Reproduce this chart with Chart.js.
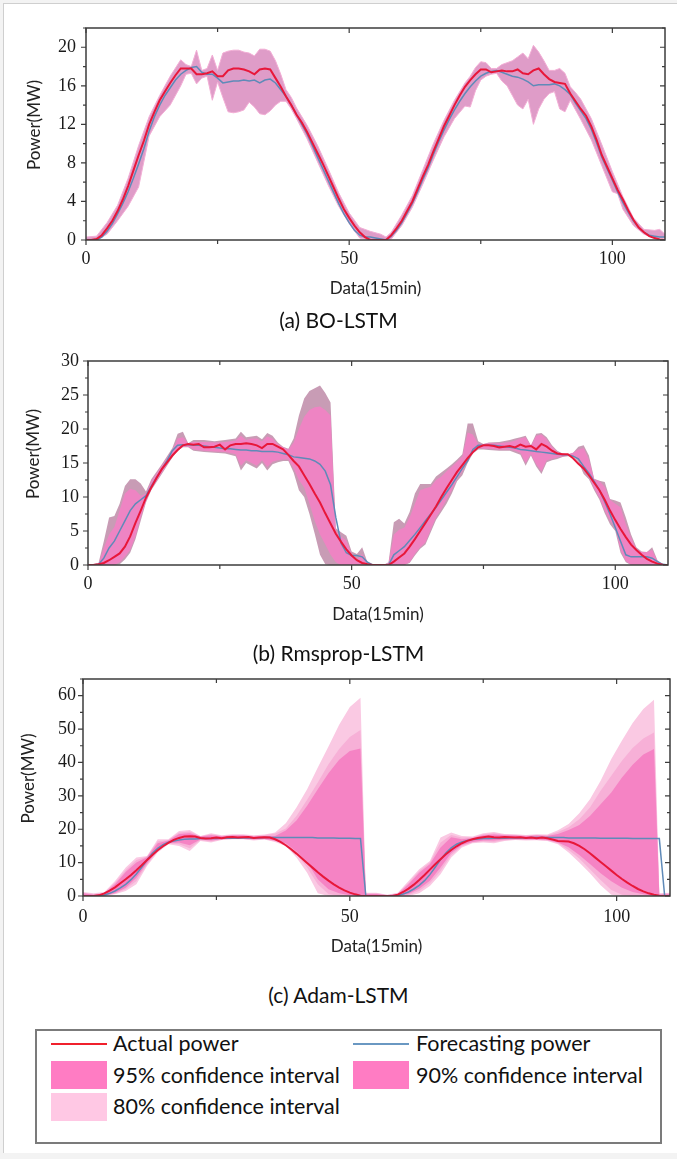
<!DOCTYPE html>
<html>
<head>
<meta charset="utf-8">
<script src="https://cdn.jsdelivr.net/npm/chart.js@4.4.1/dist/chart.umd.min.js"></script>
<style>
  body { margin: 0; background: #f3f3f3; width: 677px; height: 1159px; position: relative; overflow: hidden; }
  #page { position: absolute; left: 3px; top: 3px; width: 690px; height: 1149px; background: #fff; border-left: 1px solid #cfcfcf; border-top: 1px solid #cfcfcf; }
  canvas { position: absolute; left: 0; }
  .cap { position: absolute; width: 677px; left: 0; text-align: center; font-family: Lato, sans-serif; font-size: 21px; color: #111; }
  #legend { position: absolute; left: 35px; top: 1029px; width: 627px; height: 115px; border: 2px solid #7b7b7b; box-sizing: border-box; background: #fff; }
  .lg { position: absolute; font-family: Lato, sans-serif; font-size: 21.5px; color: #111; line-height: 24px; }
  .sw { position: absolute; width: 56px; }
</style>
</head>
<body>
<div id="page"></div>
<canvas id="chartA" width="677" height="300" style="top:0px"></canvas>
<canvas id="chartB" width="677" height="300" style="top:330px"></canvas>
<canvas id="chartC" width="677" height="300" style="top:660px"></canvas>
<div class="cap" style="top:307px">(a) BO-LSTM</div>
<div class="cap" style="top:640px">(b) Rmsprop-LSTM</div>
<div class="cap" style="top:982px">(c) Adam-LSTM</div>

<div id="legend"></div>
<div class="sw" style="left:51px;top:1043px;height:2px;background:#f0202c"></div>
<div class="lg" style="left:113px;top:1031px">Actual power</div>
<div class="sw" style="left:353px;top:1043px;height:2px;background:#6a98c2"></div>
<div class="lg" style="left:416px;top:1031px">Forecasting power</div>
<div class="sw" style="left:51px;top:1061px;height:28px;background:#ff7cc3"></div>
<div class="lg" style="left:113px;top:1063px">95% confidence interval</div>
<div class="sw" style="left:353px;top:1061px;height:28px;background:#ff7cc3"></div>
<div class="lg" style="left:416px;top:1063px">90% confidence interval</div>
<div class="sw" style="left:51px;top:1093px;height:28px;background:#ffc8e4"></div>
<div class="lg" style="left:113px;top:1094px">80% confidence interval</div>

<script>
// x positions of the line series (one value every 15 min step)
const steps = [];
for (let i = 0; i <= 110; i++) steps.push(i);

// ---------- (a) BO-LSTM ----------
const actualA = [0,0,0.1,0.5,1.2,2.0,3.0,4.2,5.6,7.2,8.8,
  10.3,12.0,13.3,14.5,15.4,16.3,17.1,17.8,17.8,17.8,
  17.2,17.2,17.3,17.5,17.0,17.0,17.6,17.8,17.8,17.7,
  17.5,17.2,17.7,17.8,17.7,16.8,15.9,14.9,14.0,13.0,
  12.2,11.2,10.1,9.0,7.9,6.7,5.5,4.3,3.2,2.3,
  1.5,0.8,0.3,0,0,0,0,0.5,1.2,2.0,
  3.0,4.0,5.3,6.6,7.8,9.2,10.5,11.8,12.9,14.0,
  15.0,15.9,16.6,17.2,17.7,17.7,17.4,17.5,17.6,17.5,
  17.5,17.7,17.3,17.2,17.6,17.8,17.2,16.7,16.4,16.3,
  16.2,15.2,14.4,13.6,12.9,11.8,10.4,8.8,7.6,6.4,
  5.2,4.2,3.1,2.1,1.3,0.8,0.4,0.2,0.05,0];
const forecastA = [0,0,0,0.3,0.9,1.7,2.7,3.8,5.0,6.4,7.9,
  9.5,11.3,12.8,14.0,15.0,15.8,16.6,17.2,17.6,17.9,
  18.0,17.4,17.2,17.2,16.8,16.3,16.4,16.5,16.5,16.6,
  16.5,16.6,16.3,16.6,16.7,16.3,15.6,14.9,14.0,13.0,
  12.0,11.0,9.8,8.6,7.4,6.2,5.0,3.8,2.7,1.8,
  1.0,0.5,0.3,0.3,0.2,0.1,0,0.4,1.0,1.8,
  2.8,3.8,5.0,6.3,7.5,8.9,10.2,11.4,12.5,13.5,
  14.4,15.2,15.9,16.5,17.0,17.3,17.5,17.6,17.4,17.2,
  17.0,16.9,16.7,16.4,16.0,16.1,16.1,16.1,16.2,16.0,
  15.6,15.1,14.2,13.4,12.6,11.5,10.1,8.6,7.4,6.2,
  5.0,3.9,2.9,2.0,1.3,0.8,0.5,0.4,0.3,0.3];
const bandXA = [0,2,4,6,8,10,12,14,16,
  18,19,20,21,22,23,24,25,26,27,28,29,30,31,32,33,34,35,36,37,38,39,40,
  42,44,46,48,50,52,54,56,57,58,
  60,62,64,66,68,70,72,
  73,74,75,76,77,78,79,80,81,82,83,84,85,86,87,88,89,90,91,92,93,94,
  96,98,100,101,102,104,106,108,109,110];
const bandHiA = [0.3,0.4,1.8,3.6,6.4,9.8,12.8,15.0,17.0,
  18.7,18.2,18.0,19.7,17.6,17.8,19.2,17.6,19.4,19.6,19.7,19.7,19.5,19.4,19.1,19.8,19.8,19.6,18.6,17.2,15.6,14.8,13.7,
  11.9,9.8,7.4,4.9,2.8,1.3,0.9,0.6,0.3,0.8,
  2.6,4.6,7.3,10.0,12.4,14.5,16.3,
  17.0,17.9,18.5,18.4,17.8,17.8,18.2,18.4,18.6,19.0,19.4,18.8,20.2,19.5,18.6,17.6,17.6,17.8,17.3,15.9,15.3,14.6,
  12.6,9.9,7.1,5.8,4.5,2.3,1.1,1.0,1.1,0.6];
const bandLoA = [0,0,0.6,2.0,3.5,5.5,10.8,12.8,14.0,
  16.0,17.2,17.3,16.2,16.8,17.0,14.5,16.4,14.8,13.3,13.2,13.3,13.5,14.3,13.8,13.1,13.0,13.4,14.0,14.4,14.4,13.6,12.6,
  10.5,8.1,5.7,3.5,1.7,0.2,0,0,0,0.1,
  1.5,3.4,5.8,8.3,10.7,12.6,13.9,
  13.8,15.5,16.6,17.0,17.2,17.3,16.5,16.0,15.0,14.0,13.6,14.6,12.0,13.6,14.6,15.2,15.4,13.6,13.3,14.5,13.5,12.5,
  10.4,7.7,5.0,4.8,3.2,1.5,0.6,0.2,0.2,0.2];

// ---------- (b) Rmsprop-LSTM ----------
const actualB = [0,0,0.1,0.3,0.7,1.2,1.7,2.7,4.2,6.2,8.0,
  9.9,11.4,12.8,14.1,15.1,16.1,16.9,17.6,17.8,17.7,
  17.8,17.3,17.3,17.4,17.7,17.0,17.6,17.8,17.8,17.9,
  17.8,17.6,17.2,17.8,17.8,17.4,17.0,16.2,15.3,14.5,
  13.2,11.9,10.5,9.2,7.6,6.1,4.6,3.4,2.3,1.4,
  0.7,0.3,0.1,0,0,0,0,0.5,1.1,1.7,
  2.7,3.8,5.0,6.2,7.4,8.6,10.0,11.3,12.5,13.7,
  14.7,15.7,16.6,17.3,17.6,17.6,17.5,17.3,17.4,17.5,
  17.3,17.7,17.4,17.5,17.0,17.8,17.4,16.8,16.4,16.3,
  16.3,15.7,14.9,14.2,13.2,12.1,11.0,9.6,8.0,6.6,
  5.3,4.1,3.0,2.2,1.5,0.9,0.5,0.2,0.05,0];
const forecastB = [0,0,0.1,1.0,2.5,3.5,5.0,6.5,8.0,9.0,9.6,
  10.2,11.6,12.9,14.1,15.4,16.8,17.6,17.7,17.7,17.6,
  17.6,17.5,17.4,17.3,17.2,17.1,17.1,17.0,16.9,16.9,
  16.8,16.8,16.7,16.7,16.7,16.6,16.4,16.2,15.9,15.8,
  15.7,15.6,15.3,14.8,13.8,11.8,7.0,3.2,1.8,1.4,
  1.4,1.2,0.4,0,0,0,0,1.5,2.1,2.7,
  3.6,4.5,5.5,6.5,7.5,8.5,9.6,10.7,11.8,13.0,
  14.2,15.3,17.0,17.6,17.6,17.6,17.6,17.5,17.4,17.3,
  17.2,17.0,16.9,16.8,16.7,16.6,16.5,16.4,16.3,16.2,
  16.2,16.0,15.6,14.5,13.5,12.3,11.0,9.3,7.5,5.5,
  3.5,1.5,1.2,1.2,1.2,1.2,1.0,0.5,0.1,0];
const bandXB = [0,2,3,4,5,6,7,8,9,10,11,12,14,16,17,18,19,20,22,24,26,28,
  29,30,31,32,33,34,35,36,37,38,39,40,41,42,43,44,45,46,47,48,49,50,51,52,53,54,56,
  57,58,59,60,61,62,63,64,65,66,67,68,69,70,71,72,73,74,75,76,78,80,
  81,82,83,84,85,86,87,88,89,90,91,92,93,94,95,96,97,98,99,100,
  101,102,103,104,105,106,107,108,109,110];
const outerHiB = [0,0.3,3.5,7.0,7.2,9.0,11.6,12.6,12.6,12.0,10.8,12.6,14.8,17.2,19.3,19.6,17.9,18.4,18.4,18.2,18.4,18.6,
  19.6,18.8,18.9,19.0,18.5,19.4,19.0,18.0,17.4,17.1,18.6,22.0,24.5,25.6,26.0,26.4,25.3,23.9,5.4,4.8,4.3,2.0,1.6,2.6,0.4,0,0,
  0.4,6.3,6.8,6.1,7.8,10.5,11.9,11.9,11.9,13.0,13.6,14.2,14.8,15.5,16.3,20.8,20.8,18.2,17.8,18.0,18.1,18.4,
  18.6,18.8,19.0,17.6,19.3,19.4,18.8,17.6,16.8,16.4,16.2,16.5,17.4,17.6,16.1,12.7,12.4,12.2,9.7,9.5,
  9.2,7.0,4.5,2.6,2.0,1.9,2.6,0.7,0.1,0];
const outerLoB = [0,0,0,0,0,0.1,0.8,1.8,3.8,6.5,9.2,11.0,13.4,15.8,16.8,17.3,17.3,16.8,16.6,16.5,16.4,16.0,
  13.9,15.0,14.6,14.2,15.0,13.9,14.8,15.1,15.3,15.3,13.6,11.0,10.0,7.5,4.6,1.5,0.1,0,0,0,0,0,0,0,0,0,0,
  0,0,0,0,0.3,1.4,2.4,3.0,4.8,6.6,7.8,9.0,10.5,12.3,13.2,15.0,16.4,17.0,17.0,16.9,16.8,16.8,
  16.5,16.2,14.6,16.1,14.5,13.4,15.1,15.4,15.6,15.9,16.0,16.0,15.2,13.4,12.6,11.0,9.6,7.6,6.0,5.0,
  1.8,0.4,0,0,0,0,0,0,0,0];
const innerHiB = [0,0.2,2.5,4.5,5.6,8.0,10.5,11.2,11.0,10.2,10.5,12.3,14.6,16.9,18.6,18.8,17.9,18.1,18.1,18.0,18.1,18.3,
  19.0,18.4,18.6,18.6,18.2,18.9,18.6,17.8,17.3,17.0,18.0,20.0,21.8,22.8,23.2,23.3,22.8,22.0,5.0,4.2,3.6,1.6,0.8,1.6,0.2,0,0,
  0.3,4.5,5.2,5.5,7.0,9.0,11.0,11.3,11.5,12.5,13.0,13.8,14.5,15.2,16.0,19.5,19.2,17.8,17.8,17.9,17.9,18.1,
  18.3,18.6,18.8,17.5,19.0,19.2,18.5,17.4,16.6,16.4,16.3,16.5,17.0,17.2,15.5,12.6,12.3,11.5,9.6,9.0,
  8.5,6.0,4.0,2.3,1.9,1.9,2.2,0.5,0.1,0];
const innerLoB = [0,0,0,0,0,0.4,1.2,2.2,4.2,7.0,9.4,11.2,13.6,16.0,16.9,17.4,17.4,17.0,16.8,16.7,16.6,16.3,
  14.6,15.4,15.0,14.6,15.4,14.4,15.2,15.4,15.5,15.5,14.2,12.5,11.4,9.0,6.5,4.5,3.0,1.5,0.4,0,0,0,0,0,0,0,0,
  0,0,0,0,0.4,1.6,2.6,3.3,5.2,7.0,8.2,9.6,11.0,12.7,13.8,15.6,16.6,17.2,17.1,17.1,17.0,17.0,
  16.8,16.5,15.0,16.3,14.8,13.8,15.4,15.6,15.8,16.0,16.1,16.1,15.5,14.0,13.0,11.3,9.9,8.0,6.5,5.6,
  2.2,0.6,0,0,0,0,0,0,0,0];

// ---------- (c) Adam-LSTM ----------
const actualC = [0,0,0,0.2,0.8,1.6,2.6,3.8,5.0,6.3,7.7,
  9.2,10.8,12.3,13.7,14.9,15.9,16.8,17.4,17.8,17.9,
  17.8,17.4,17.2,17.3,17.5,17.3,17.6,17.7,17.5,17.6,
  17.7,17.4,17.5,17.6,17.5,17.0,16.2,15.2,14.0,12.7,
  11.3,9.9,8.5,7.1,5.8,4.6,3.5,2.5,1.7,1.0,
  0.5,0.1,0,0,0,0,0,0,0.4,1.2,
  2.2,3.4,4.8,6.3,7.9,9.5,11.0,12.5,13.8,14.9,
  15.8,16.5,17.0,17.4,17.6,17.8,17.6,17.5,17.7,17.6,
  17.5,17.6,17.4,17.5,17.3,17.5,17.3,16.9,16.5,16.4,
  16.3,15.8,15.0,14.0,12.8,11.5,10.2,8.9,7.6,6.3,
  5.1,4.0,3.0,2.1,1.4,0.8,0.4,0.1,0,0];
const forecastC = [0,0,0,0,0.3,0.8,1.5,2.4,3.5,4.9,6.6,
  8.6,10.8,12.8,14.3,15.4,16.1,16.5,16.8,17.0,17.1,
  17.1,17.2,17.2,17.2,17.2,17.3,17.3,17.3,17.3,17.4,
  17.4,17.4,17.4,17.5,17.5,17.5,17.5,17.5,17.5,17.5,
  17.5,17.5,17.5,17.4,17.4,17.4,17.4,17.3,17.3,17.3,
  17.2,17.2,0,0,0,0,0,0,0.2,0.6,
  1.2,2.1,3.2,4.6,6.4,8.6,10.9,12.9,14.4,15.5,
  16.2,16.6,16.9,17.1,17.2,17.2,17.3,17.3,17.3,17.4,
  17.4,17.4,17.4,17.5,17.5,17.5,17.5,17.5,17.5,17.5,
  17.4,17.4,17.4,17.4,17.4,17.4,17.3,17.3,17.3,17.3,
  17.3,17.3,17.2,17.2,17.2,17.2,17.2,17.2,0,0];
const bandXC = [0,2,4,6,8,10,12,14,16,18,20,22,24,26,28,30,32,34,36,38,40,42,44,46,48,50,52,
  53,55,57,59,61,63,65,67,69,71,73,75,77,79,81,83,85,87,89,91,93,95,97,99,101,103,105,107,108,110];
const outerHiC = [1.2,0.8,1.2,4.5,8.5,11.5,12.0,17.0,17.0,19.5,19.8,18.0,18.8,18.2,18.5,18.5,18.2,18.4,19.0,21.8,26.5,32.0,38.5,44.8,51.3,56.6,59.4,
  1.0,1.0,0.4,1.0,4.5,8.0,10.5,17.5,19.0,18.0,17.8,18.8,19.2,18.6,18.5,18.3,18.5,18.4,19.7,21.6,24.8,29.0,34.5,41.0,46.6,51.8,56.0,58.8,0.8,1.0];
const outerLoC = [0,0,0,0.5,1.5,3.5,9.0,13.0,15.5,15.0,13.5,16.5,16.0,16.8,17.0,17.0,16.6,16.9,16.2,15.0,11.5,7.0,0.8,0,0,0,0,
  0,0,0,0,0,0.8,3.0,6.5,11.5,14.5,15.8,16.0,15.8,16.5,16.8,16.6,16.7,16.5,15.5,13.0,10.0,6.8,3.2,0.4,0,0,0,0,0,0];
const midHiC = [1.0,0.6,1.0,4.0,7.8,10.8,11.8,16.4,16.8,19.0,19.3,17.9,18.5,18.0,18.3,18.3,18.0,18.2,18.7,20.2,24.0,28.8,34.0,39.5,44.0,47.6,49.7,
  0.8,0.8,0.3,0.8,4.0,7.5,10.0,16.0,18.3,17.5,17.6,18.5,18.8,18.4,18.3,18.1,18.3,18.2,19.2,20.6,23.0,26.5,31.5,36.0,40.5,44.3,47.2,49.0,0.6,0.8];
const midLoC = [0,0,0,0.7,2.0,4.5,9.4,13.4,15.7,15.5,14.3,16.7,16.3,16.9,17.1,17.1,16.8,17.0,16.4,15.5,12.5,8.5,3.5,0.6,0,0,0,
  0,0,0,0,0.3,1.5,3.8,7.5,12.2,14.9,16.0,16.3,16.2,16.7,16.9,16.8,16.8,16.6,15.8,13.8,11.2,8.0,4.8,1.8,0.4,0,0,0,0,0];
const innerHiC = [0.8,0.4,0.8,3.5,7.2,10.0,11.6,15.8,16.6,18.6,18.8,17.8,18.2,17.9,18.1,18.1,17.8,18.0,18.0,19.6,22.6,27.0,32.0,36.8,40.8,43.4,44.2,
  0.6,0.6,0.2,0.6,3.5,7.0,9.5,14.5,17.6,17.0,17.4,18.2,18.4,18.2,18.1,17.9,18.1,18.0,18.6,19.8,21.3,24.0,27.5,31.0,35.5,39.3,42.4,44.0,0.4,0.6];
const innerLoC = [0,0,0,0.9,2.5,5.5,9.8,13.8,15.8,16.0,15.2,16.9,16.6,17.0,17.2,17.2,17.0,17.1,16.6,15.8,13.3,10.2,5.0,2.0,0.8,0.2,0,
  0,0,0,0.1,0.6,2.2,4.6,8.5,12.9,15.3,16.2,16.6,16.6,16.9,17.0,17.0,16.9,16.8,16.0,14.6,12.3,9.6,6.8,4.4,2.5,1.2,0.5,0,0,0];

function pts(xs, ys) {
  return ys.map(function (v, i) { return { x: xs[i], y: v }; });
}

function bandSets(xs, hi, lo, color, edge) {
  return [
    { data: pts(xs, lo), borderColor: edge || color, borderWidth: edge ? 1 : 0, fill: false },
    { data: pts(xs, hi), borderColor: edge || color, borderWidth: edge ? 1 : 0, backgroundColor: color, fill: "-1" }
  ];
}

const axisPlugin = {
  id: "axisFrame",
  afterDatasetsDraw(chart, args, opts) {
    const ctx = chart.ctx;
    const a = chart.chartArea;
    const x = chart.scales.x;
    const y = chart.scales.y;
    ctx.save();
    ctx.strokeStyle = "#3c3c3c";
    ctx.lineWidth = 1.5;
    ctx.strokeRect(a.left, a.top, a.right - a.left, a.bottom - a.top);
    ctx.lineWidth = 1.2;
    ctx.beginPath();
    for (let v = 0; v <= x.max; v += 25) {
      const px = x.getPixelForValue(v);
      const len = v % 50 === 0 ? 5 : 4;
      ctx.moveTo(px, a.bottom); ctx.lineTo(px, a.bottom + len);
      ctx.moveTo(px, a.top); ctx.lineTo(px, a.top + len);
    }
    let k = 0;
    for (let v = 0; v <= y.max + 0.001; v += opts.yMinor) {
      const py = y.getPixelForValue(v);
      const len = k % 2 === 0 ? 5 : 3;
      ctx.moveTo(a.left, py); ctx.lineTo(a.left - len, py);
      ctx.moveTo(a.right, py); ctx.lineTo(a.right - len, py);
      k++;
    }
    ctx.stroke();
    ctx.fillStyle = "#222";
    ctx.font = "17px Lato";
    ctx.textAlign = "center";
    ctx.textBaseline = "middle";
    ctx.translate(opts.titleX, (a.top + a.bottom) / 2 - 9);
    ctx.rotate(-Math.PI / 2);
    ctx.fillText("Power(MW)", 0, 0);
    ctx.restore();
  }
};

function makeChart(id, cfg) {
  const datasets = [
    { data: pts(steps, cfg.actual), borderColor: "#e8173a", borderWidth: 2, fill: false },
    { data: pts(steps, cfg.forecast), borderColor: "#5f8ab8", borderWidth: 1.5, fill: false }
  ];
  cfg.bands.forEach(function (b) {
    bandSets(cfg.bandX, b.hi, b.lo, b.color, b.edge).forEach(function (d) { datasets.push(d); });
  });
  return new Chart(document.getElementById(id), {
    type: "line",
    data: { datasets: datasets },
    options: {
      responsive: false,
      animation: false,
      layout: { padding: { top: cfg.top, right: 677 - cfg.right, left: 0, bottom: 0 } },
      elements: { point: { radius: 0 }, line: { tension: 0 } },
      plugins: {
        legend: { display: false },
        tooltip: { enabled: false },
        axisFrame: { yMinor: cfg.yMinor, titleX: cfg.titleX }
      },
      scales: {
        x: {
          type: "linear",
          min: 0,
          max: 110,
          ticks: { stepSize: 50, includeBounds: false, maxRotation: 0, padding: cfg.xPad, color: "#1a1a1a", font: { family: "Liberation Serif", size: 18 } },
          grid: { display: false, drawTicks: false },
          border: { display: false },
          title: { display: true, text: "Data(15min)", color: "#222", font: { family: "Lato", size: 17 }, padding: { top: 0, bottom: cfg.titlePad } },
          afterFit: function (s) { s.height = cfg.xHeight; }
        },
        y: {
          min: 0,
          max: cfg.yMax,
          ticks: { stepSize: cfg.yStep, includeBounds: false, padding: cfg.yPad, color: "#1a1a1a", font: { family: "Liberation Serif", size: 18 } },
          grid: { display: false, drawTicks: false },
          border: { display: false },
          afterFit: function (s) { s.width = cfg.left; }
        }
      }
    },
    plugins: [axisPlugin]
  });
}

makeChart("chartA", {
  actual: actualA, forecast: forecastA, bandX: bandXA,
  bands: [{ hi: bandHiA, lo: bandLoA, color: "#df9cc8", edge: "#f2aed5" }],
  top: 28, left: 86, right: 665, xHeight: 60, xPad: 8, titlePad: 1,
  yMax: 22, yStep: 4, yMinor: 2, yPad: 10, titleX: 35
});

makeChart("chartB", {
  actual: actualB, forecast: forecastB, bandX: bandXB,
  bands: [
    { hi: innerHiB, lo: innerLoB, color: "#ee84c3" },
    { hi: outerHiB, lo: outerLoB, color: "#c89cb5" }
  ],
  top: 31, left: 88, right: 668, xHeight: 65, xPad: 8, titlePad: 5,
  yMax: 30, yStep: 5, yMinor: 2.5, yPad: 9, titleX: 34
});

makeChart("chartC", {
  actual: actualC, forecast: forecastC, bandX: bandXC,
  bands: [
    { hi: innerHiC, lo: innerLoC, color: "#f583c4" },
    { hi: midHiC, lo: midLoC, color: "#f7b0d7" },
    { hi: outerHiC, lo: outerLoC, color: "#fac9e3" }
  ],
  top: 19, left: 83, right: 670, xHeight: 64, xPad: 10, titlePad: 3,
  yMax: 65, yStep: 10, yMinor: 5, yPad: 7, titleX: 29
});
</script>
</body>
</html>
